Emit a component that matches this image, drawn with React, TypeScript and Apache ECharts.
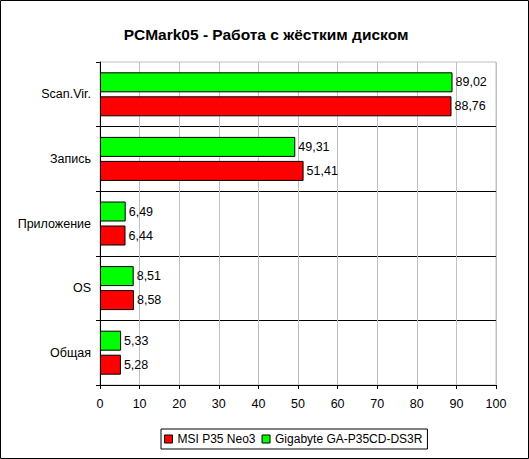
import React, { useEffect, useRef } from "react";
import * as echarts from "echarts";

const categories = ["Scan.Vir.", "Запись", "Приложение", "OS", "Общая"];
const msiValues = [88.76, 51.41, 6.44, 8.58, 5.28];
const gigabyteValues = [89.02, 49.31, 6.49, 8.51, 5.33];
const xTicks = [0, 10, 20, 30, 40, 50, 60, 70, 80, 90, 100];
const seriesNames = ["MSI P35 Neo3", "Gigabyte GA-P35CD-DS3R"];
const titleText = "PCMark05 - Работа с жёстким диском";

const fontFamily = "'Liberation Sans', Arial, sans-serif";
const fmt = (v: number) => v.toFixed(2).replace(".", ",");

export default function App() {
  const ref = useRef<HTMLDivElement>(null);
  useEffect(() => {
    document.body.style.margin = "0";
    const chart = echarts.init(ref.current!, null, { renderer: "svg" });
    const labelCfg = {
      show: true,
      position: "right" as const,
      distance: 3,
      color: "#000",
      fontSize: 12.5,
      fontFamily,
      formatter: (p: any) => fmt(p.value),
    };
    chart.setOption({
      animation: false,
      backgroundColor: "#fff",
      title: {
        text: titleText,
        left: 261,
        textAlign: "center",
        top: 21,
        textStyle: { fontSize: 15.5, fontWeight: "bold", color: "#000", fontFamily },
      },
      graphic: [
        {
          type: "rect",
          shape: { x: 0.5, y: 0.5, width: 528, height: 458 },
          style: { fill: "none", stroke: "#000", lineWidth: 1 },
          silent: true,
        },
      ],
      legend: {
        data: seriesNames,
        left: 161,
        top: 429,
        itemWidth: 8,
        itemHeight: 8,
        itemGap: 6,
        padding: [4, 5, 4, 3],
        borderColor: "#000",
        borderWidth: 1,
        icon: "rect",
        textStyle: { fontSize: 12, color: "#000", fontFamily },
        itemStyle: { borderColor: "#000", borderWidth: 1 },
      },
      grid: {
        left: 100,
        right: 33,
        top: 62,
        bottom: 74,
        show: true,
        borderColor: "#c0c0c0",
        borderWidth: 1,
        containLabel: false,
      },
      xAxis: {
        type: "value",
        min: 0,
        max: 100,
        interval: 10,
        axisLine: { show: true, lineStyle: { color: "#000" } },
        axisTick: { show: true, length: 4, lineStyle: { color: "#000" } },
        axisLabel: {
          color: "#000",
          fontSize: 12.5,
          fontFamily,
          margin: 12,
          formatter: (v: number) => (xTicks.includes(v) ? String(v) : ""),
        },
        splitLine: { show: true, lineStyle: { color: "#c0c0c0" } },
      },
      yAxis: {
        type: "category",
        data: categories,
        inverse: true,
        axisLine: { show: true, lineStyle: { color: "#000" } },
        axisTick: { show: true, length: 4, lineStyle: { color: "#000" } },
        axisLabel: { color: "#000", fontSize: 12.5, fontFamily, margin: 9 },
        splitLine: {
          show: true,
          lineStyle: { color: "#000" },
          interval: (idx: number) => idx !== 0,
        },
      },
      series: [
        {
          name: seriesNames[1],
          type: "bar",
          data: gigabyteValues,
          barWidth: 20,
          barGap: "20%",
          itemStyle: { color: "#00ff00", borderColor: "#000", borderWidth: 1 },
          label: labelCfg,
        },
        {
          name: seriesNames[0],
          type: "bar",
          data: msiValues,
          barWidth: 20,
          barGap: "20%",
          itemStyle: { color: "#ff0000", borderColor: "#000", borderWidth: 1 },
          label: labelCfg,
        },
      ],
    });
    return () => chart.dispose();
  }, []);
  return (
    <div
      ref={ref}
      style={{ position: "absolute", left: 0, top: 0, width: 529, height: 459 }}
    />
  );
}
